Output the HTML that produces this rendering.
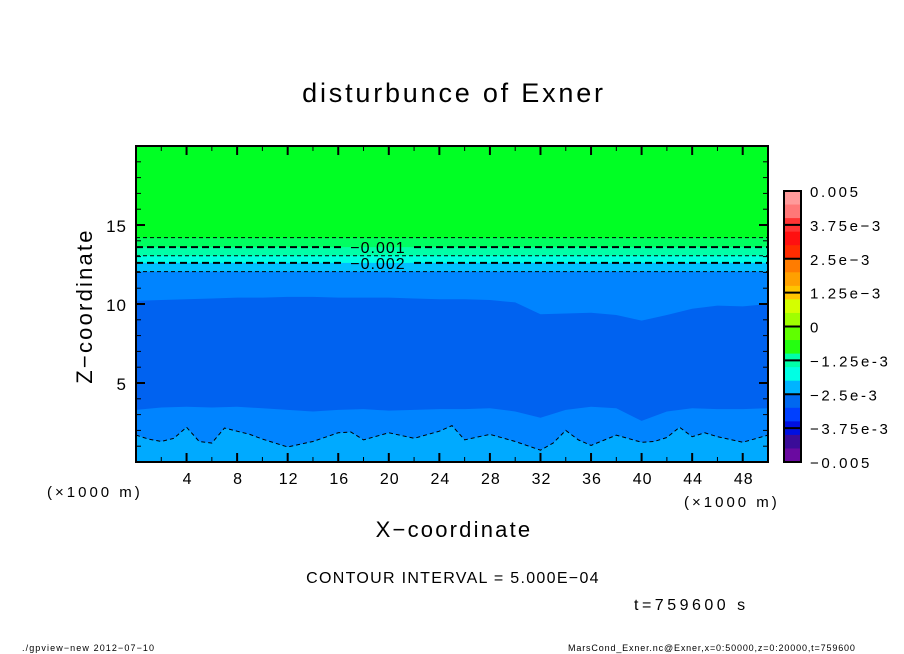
<!DOCTYPE html>
<html><head><meta charset="utf-8"><style>
body{margin:0;background:#fff;}
svg{display:block;font-family:"Liberation Sans",sans-serif;}
</style></head><body>
<svg id="c" width="904" height="654" xmlns="http://www.w3.org/2000/svg"></svg>
<script>
const NS="http://www.w3.org/2000/svg";
// ---- data ----
const flatLevels=[-0.0005,-0.001,-0.0015,-0.002,-0.0025];
const flatLevelZ=[14.2,13.6,13.05,12.6,12.05];
const flatBandColors=["#00ff60","#00ffa8","#00ffe4","#00c0ff","#0084ff"];
const topColor="#00ff24";
const coreColor="#0062f0";
const bottomColor="#00aaff";
const waveX=[0,2,4,6,8,10,12,14,16,18,20,22,24,26,28,30,32,34,36,38,40,42,44,46,48,50];
const upperZ=[10.2,10.25,10.3,10.35,10.4,10.4,10.45,10.45,10.4,10.4,10.4,10.35,10.3,10.3,10.25,10.1,9.35,9.4,9.45,9.3,8.95,9.3,9.7,9.9,9.85,10.0];
const lowerZ=[3.3,3.45,3.5,3.45,3.5,3.4,3.3,3.2,3.3,3.35,3.25,3.3,3.35,3.35,3.4,3.2,2.8,3.3,3.5,3.4,2.6,3.2,3.4,3.35,3.35,3.4];
const dashX=[0,1,2,3,4,5,6,7,8,9,10,12,14,16,17,18,20,22,24,25,26,28,30,32,33,34,35,36,38,40,41,42,43,44,45,46,48,50];
const dashZ=[1.7,1.45,1.3,1.5,2.2,1.3,1.2,2.15,1.95,1.75,1.45,0.95,1.3,1.85,1.9,1.4,1.85,1.5,1.95,2.3,1.4,1.75,1.3,0.75,1.2,2.0,1.4,1.05,1.7,1.25,1.3,1.55,2.2,1.6,1.85,1.6,1.25,1.7];
const xTicks=[4,8,12,16,20,24,28,32,36,40,44,48];
const zTicks=[5,10,15];
const cbLabels=["0.005","3.75e-3","2.5e-3","1.25e-3","0","-1.25e-3","-2.5e-3","-3.75e-3","-0.005"];
const cbValues=[0.005,0.00375,0.0025,0.00125,0,-0.00125,-0.0025,-0.00375,-0.005];
const cbColors=["#ff9a9a","#ff7878","#ff5a5a","#ff3434","#ff1010","#ff2c00","#ff5000","#ff7c00","#ffa000","#ffc400","#ffee00","#d4ff00","#a0ff00","#60ff00","#24ff10","#00ff60","#00ffa8","#00ffe4","#00b4ff","#0090ff","#0068f0","#0040ff","#0010e0","#1010a0","#3a0c98","#6a0aa0"];
// ---- axes ----
const X0=136,X1=768,Y0=462,Y1=146;
const sx=v=>X0+(v/50)*(X1-X0);
const sz=v=>Y0-(v/20)*(Y0-Y1);
const CB0=191,CB1=462,CBX=784,CBW=17;
const sc=v=>CB0+(0.005-v)/0.01*(CB1-CB0);
const svg=document.getElementById('c');
function el(t,a,p){const e=document.createElementNS(NS,t);for(const k in a)e.setAttribute(k,a[k]);(p||svg).appendChild(e);return e;}
function txt(s,x,y,size,anchor,name,ls){const t=el('text',{x:x,y:y,'font-size':size,'text-anchor':anchor||'start',fill:'#000','letter-spacing':ls||0});t.textContent=s;return t;}
const defs=el('defs',{});const cp=el('clipPath',{id:'pc'},defs);el('rect',{x:X0,y:Y1,width:X1-X0,height:Y0-Y1},cp);
const g=el('g',{'clip-path':'url(#pc)'});

let r=el('rect',{x:X0,y:Y1,width:X1-X0,height:Y0-Y1,fill:topColor},g);

flatLevelZ.forEach((z,i)=>{const b=el('rect',{x:X0,y:sz(z),width:X1-X0,height:Y0-sz(z),fill:flatBandColors[i]},g);
});
let d='M'+waveX.map((x,i)=>sx(x)+','+sz(upperZ[i])).join(' L');
for(let i=waveX.length-1;i>=0;i--)d+=' L'+sx(waveX[i])+','+sz(lowerZ[i]);
let p=el('path',{d:d+'Z',fill:coreColor},g);

let d2='M'+dashX.map((x,i)=>sx(x)+','+sz(dashZ[i])).join(' L')+' L'+sx(50)+','+Y0+' L'+sx(0)+','+Y0+'Z';
p=el('path',{d:d2,fill:bottomColor},g);

p=el('polyline',{points:dashX.map((x,i)=>sx(x)+','+sz(dashZ[i])).join(' '),fill:'none',stroke:'#000','stroke-width':1,'stroke-dasharray':'4,3'},g);

flatLevelZ.forEach((z,i)=>{const thick=(i==1||i==3);const y=sz(z);
 if(thick){
  let l=el('line',{x1:X0,y1:y,x2:342,y2:y,stroke:'#000','stroke-width':2,'stroke-dasharray':'7,4'},g);
  
  l=el('line',{x1:414,y1:y,x2:X1,y2:y,stroke:'#000','stroke-width':2,'stroke-dasharray':'7,4'},g);
  
  txt(String(flatLevels[i]).replace('-','\u2212'),378,y+6,16,'middle','contour-label-'+i,1);
 } else {
  const l=el('line',{x1:X0,y1:y,x2:X1,y2:y,stroke:'#000','stroke-width':1,'stroke-dasharray':'4,3'},g);
  
 }});
let f=el('rect',{x:X0,y:Y1,width:X1-X0,height:Y0-Y1,fill:'none',stroke:'#000','stroke-width':2});

for(let v=2;v<50;v+=2){const maj=v%4==0;const L=maj?9:5;
 el('line',{x1:sx(v),y1:Y0,x2:sx(v),y2:Y0-L,stroke:'#000','stroke-width':maj?2:1});
 el('line',{x1:sx(v),y1:Y1,x2:sx(v),y2:Y1+L,stroke:'#000','stroke-width':maj?2:1});}
for(let v=1;v<20;v++){const maj=v%5==0;const L=maj?9:5;
 el('line',{x1:X0,y1:sz(v),x2:X0+L,y2:sz(v),stroke:'#000','stroke-width':maj?2:1});
 el('line',{x1:X1,y1:sz(v),x2:X1-L,y2:sz(v),stroke:'#000','stroke-width':maj?2:1});}
xTicks.forEach(v=>txt(String(v),sx(v)+1,484,16,'middle','x-tick-'+v,1));
zTicks.forEach(v=>txt(String(v),127,sz(v)+7,17,'end','z-tick-'+v,1));
txt('(\u00d71000 m)',47,497,15,'start','x-unit-left',3);
txt('(\u00d71000 m)',684,507,15,'start','x-unit-right',3);
txt('X\u2212coordinate',454,537,22,'middle','x-axis-title',2.2);
const yt=txt('Z\u2212coordinate',0,0,22,'middle','z-axis-title',2.2);yt.setAttribute('transform','translate(92,306) rotate(-90)');
txt('disturbunce of Exner',454,102,27,'middle','chart-title',2.8);
txt('CONTOUR INTERVAL = 5.000E\u221204',453,583,16,'middle','contour-interval',1.3);
txt('t=759600 s',634,610,16,'start','time-label',3.5);
txt('./gpview\u2212new   2012\u221207\u221210',22,651,9,'start','footer-left',1.1);
txt('MarsCond_Exner.nc@Exner,x=0:50000,z=0:20000,t=759600',568,651,9,'start','footer-right',0.85);
const nb=20;
for(let i=0;i<nb;i++){const v0=0.005-i*0.0005;const ci=Math.round(i*(cbColors.length-1)/(nb-1));
 const b=el('rect',{x:CBX,y:sc(v0),width:CBW,height:sc(v0-0.0005)-sc(v0)+0.5,fill:cbColors[ci]});
 }
f=el('rect',{x:CBX,y:CB0,width:CBW,height:CB1-CB0,fill:'none',stroke:'#000','stroke-width':2});

cbValues.forEach((v,i)=>{el('line',{x1:CBX,y1:sc(v),x2:CBX+CBW,y2:sc(v),stroke:'#000','stroke-width':2});
 txt(cbLabels[i].replace('-','\u2212'),810,sc(v)+6,15,'start','colorbar-label-'+i,2.6);});
</script>
</body></html>
